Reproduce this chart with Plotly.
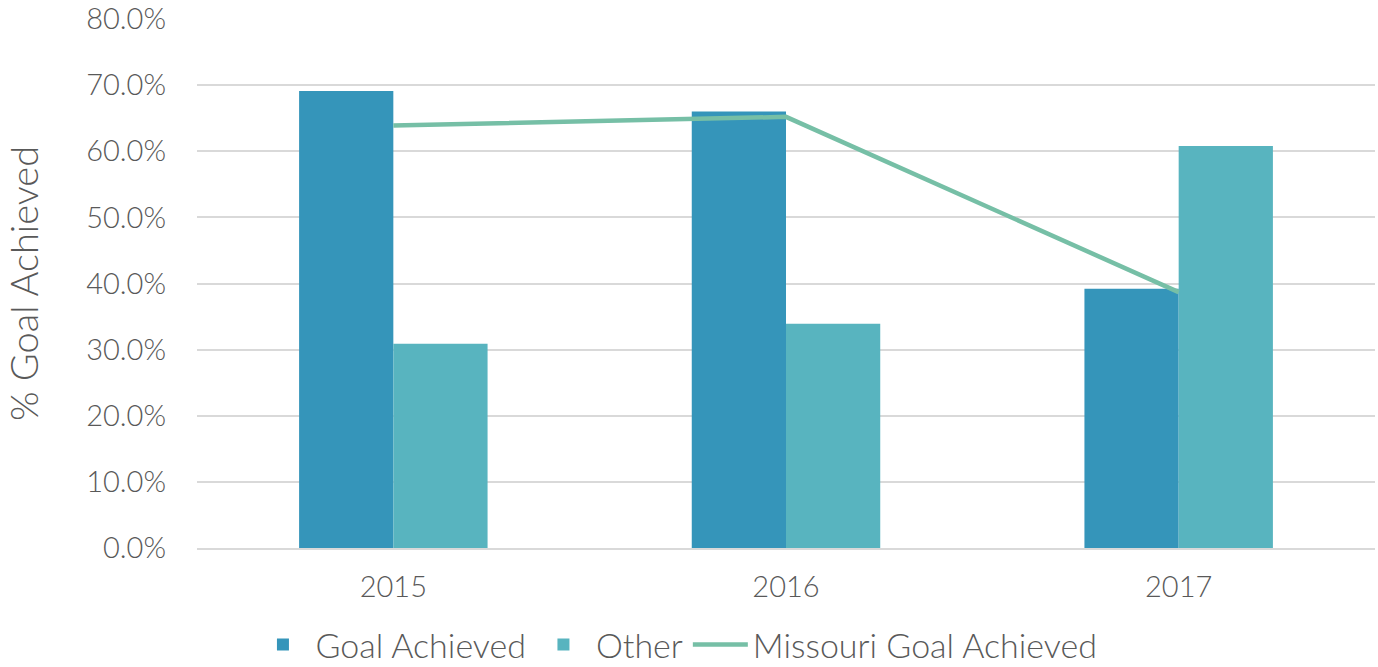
import plotly.graph_objects as go

years = ["2015", "2016", "2017"]
goal_achieved = [0.691, 0.660, 0.392]
other = [0.309, 0.339, 0.608]
missouri = [0.639, 0.652, 0.387]

FONT = "Lato"
fig = go.Figure()
fig.add_trace(go.Bar(x=years, y=goal_achieved, name="Goal Achieved",
                     marker=dict(color="#3595BA", line=dict(width=0))))
fig.add_trace(go.Bar(x=years, y=other, name="Other",
                     marker=dict(color="#58B4BF", line=dict(width=0))))
fig.add_trace(go.Scatter(x=years, y=missouri, name="Missouri Goal Achieved",
                         mode="lines", line=dict(color="#76BFA6", width=4.5)))

fig.update_layout(
    width=1378, height=667,
    margin=dict(l=197, r=3, t=19, b=119),
    paper_bgcolor="white", plot_bgcolor="white",
    barmode="group", bargap=0.52, bargroupgap=0,
    font=dict(family=FONT, color="#595959", size=29, weight=300),
    showlegend=True,
    legend=dict(orientation="h", x=0.407, xanchor="center",
                yref="container", y=0.033, yanchor="middle",
                font=dict(size=34, family=FONT, color="#595959", weight=300),
                itemwidth=55, traceorder="normal"),
    xaxis=dict(showgrid=False, showline=True, linecolor="#D9D9D9", linewidth=1.5,
               tickfont=dict(size=29), ticks="", ticklabelstandoff=12,
               automargin=False),
    yaxis=dict(range=[0, 0.8], dtick=0.1, tickformat=".1%",
               showgrid=True, gridcolor="#D9D9D9", gridwidth=1.5,
               zeroline=False, showline=False, ticks="",
               tickfont=dict(size=29), ticklabelstandoff=30, automargin=False,
               title=dict(text="% Goal Achieved", font=dict(size=38), standoff=46)),
)

fig.write_html("out.html", config={"displayModeBar": False},
               post_script="document.body.style.margin='0';document.body.style.overflow='hidden';")
